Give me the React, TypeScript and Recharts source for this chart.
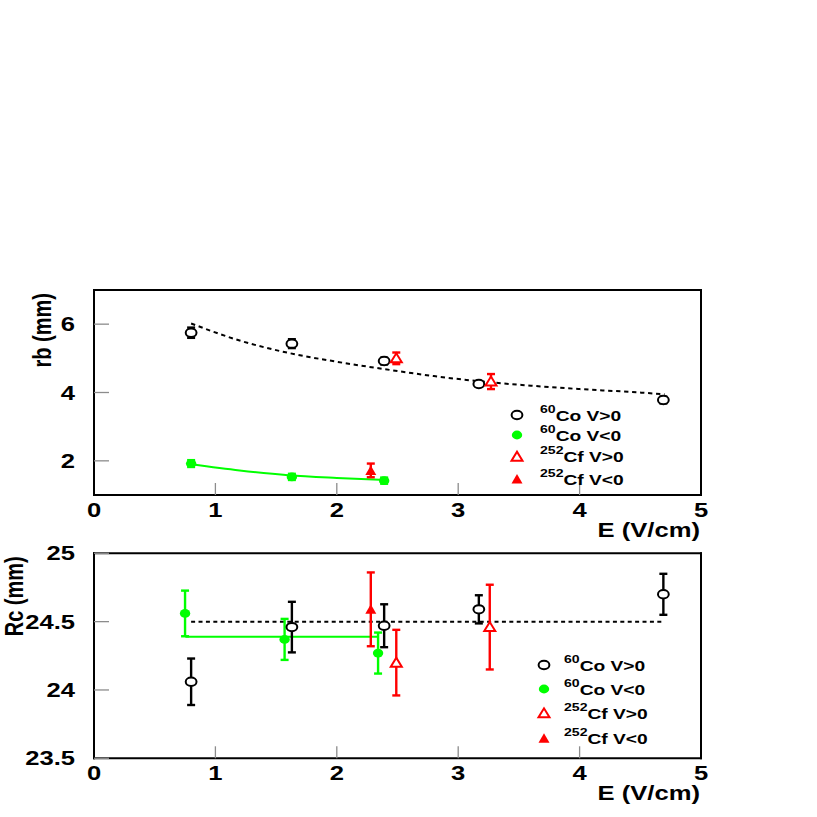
import { ComposedChart, Scatter, Line, XAxis, YAxis, ErrorBar, Legend, Label } from "recharts";

// ---- data ----
const xTicks = [0, 1, 2, 3, 4, 5];
const rbTicks = [2, 4, 6];
const rcTicks = [23.5, 24, 24.5, 25];

// rb (mm) panel
const rbCoPosE = [0.8, 1.63, 2.39, 3.17, 4.69];
const rbCoPos = [5.75, 5.43, 4.92, 4.25, 3.78];
const rbCoPosErr = [0.15, 0.13, 0.1, 0.05, 0.1];
const rbCoNegE = [0.8, 1.63, 2.39];
const rbCoNeg = [1.92, 1.53, 1.42];
const rbCoNegErr = [0.1, 0.09, 0.09];
const rbCfPosE = [2.49, 3.27];
const rbCfPos = [5.0, 4.32];
const rbCfPosErr = [0.17, 0.22];
const rbCfNegE = [2.28];
const rbCfNeg = [1.72];
const rbCfNegErr = [0.2];
const rbFitPosE = [0.8, 1.2, 1.6, 2.0, 2.4, 2.8, 3.2, 3.6, 4.0, 4.4, 4.7];
const rbFitPos = [6.02, 5.52, 5.16, 4.9, 4.68, 4.48, 4.32, 4.2, 4.1, 4.02, 3.95];
const rbFitNegE = [0.8, 1.2, 1.6, 2.0, 2.4];
const rbFitNeg = [1.9, 1.72, 1.58, 1.5, 1.44];

// Rc (mm) panel
const rcCoPosE = [0.8, 1.63, 2.39, 3.17, 4.69];
const rcCoPos = [24.06, 24.46, 24.47, 24.59, 24.7];
const rcCoPosErr = [0.17, 0.185, 0.157, 0.103, 0.15];
const rcCoNegE = [0.75, 1.57, 2.34];
const rcCoNeg = [24.56, 24.37, 24.27];
const rcCoNegErr = [0.167, 0.15, 0.15];
const rcCfPosE = [2.49, 3.26];
const rcCfPos = [24.2, 24.46];
const rcCfPosErr = [0.24, 0.31];
const rcCfNegE = [2.28];
const rcCfNeg = [24.59];
const rcCfNegErr = [0.27];
const rcFitPosE = [0.8, 4.69];
const rcFitPos = [24.5, 24.5];
const rcFitNegE = [0.753, 2.34];
const rcFitNeg = [24.39, 24.39];

// ---- styling ----
const FONT = '"Liberation Sans", Arial, Helvetica, sans-serif';
const STRETCH = 1.28; // the source image is stretched horizontally
const GREEN = "#00ff00";
const RED = "#ff0000";
const TICK_GRAY = "#8c8c8c";

type Kind = "openCircle" | "dot" | "openTri" | "tri";
type Pt = { x: number; y: number; err: number };

const toPoints = (xs: number[], ys: number[], errs?: number[]): Pt[] =>
  xs.map((x, i) => ({ x, y: ys[i], err: errs ? errs[i] : 0 }));

const SERIES: { key: string; iso: string; label: string; kind: Kind; color: string }[] = [
  { key: "coPos", iso: "60", label: "Co V>0", kind: "openCircle", color: "#000" },
  { key: "coNeg", iso: "60", label: "Co V<0", kind: "dot", color: GREEN },
  { key: "cfPos", iso: "252", label: "Cf V>0", kind: "openTri", color: RED },
  { key: "cfNeg", iso: "252", label: "Cf V<0", kind: "tri", color: RED },
];

function Marker({ kind, cx, cy }: { kind: Kind; cx: number; cy: number }) {
  if (cx == null || cy == null) return null;
  switch (kind) {
    case "openCircle":
      return <ellipse cx={cx} cy={cy} rx={5.4} ry={4.2} fill="#fff" stroke="#000" strokeWidth={2} />;
    case "dot":
      return <ellipse cx={cx} cy={cy} rx={5.2} ry={4.4} fill={GREEN} />;
    case "openTri":
      return (
        <path
          d={`M${cx - 5.5},${cy + 4} L${cx + 5.5},${cy + 4} L${cx},${cy - 5} Z`}
          fill="#fff"
          stroke={RED}
          strokeWidth={2}
          strokeLinejoin="miter"
        />
      );
    default:
      return <path d={`M${cx - 5.5},${cy + 4.5} L${cx + 5.5},${cy + 4.5} L${cx},${cy - 5} Z`} fill={RED} />;
  }
}

function SText({
  x, y, anchor = "start", size = 20, rotate, children,
}: { x: number; y: number; anchor?: string; size?: number; rotate?: number; children: any }) {
  return (
    <g transform={`translate(${x},${y}) scale(${STRETCH},1)${rotate ? ` rotate(${rotate})` : ""}`}>
      <text x={0} y={0} textAnchor={anchor} fontFamily={FONT} fontWeight="bold" fontSize={size} fill="#000">
        {children}
      </text>
    </g>
  );
}

function XTick(p: any) {
  return <SText x={p.x} y={p.y + 21.7} anchor="middle">{p.payload.value}</SText>;
}

function YTick(p: any) {
  return <SText x={p.x} y={p.y + 7} anchor="end">{p.payload.value}</SText>;
}

function LegendBox({ markerX, textX, rows }: { markerX: number; textX: number; rows: number[] }) {
  return (
    <svg width={190} height={105} style={{ overflow: "visible", display: "block" }}>
      {SERIES.map((s, i) => (
        <g key={s.key}>
          <Marker kind={s.kind} cx={markerX} cy={rows[i]} />
          <g transform={`translate(${textX},${rows[i] + 5.5}) scale(${STRETCH},1)`}>
            <text fontFamily={FONT} fontWeight="bold" fontSize={15} fill="#000">
              <tspan fontSize={11} dy={-8}>{s.iso}</tspan>
              <tspan dy={8}>{s.label}</tspan>
            </text>
          </g>
        </g>
      ))}
    </svg>
  );
}

interface PanelProps {
  top: number;
  height: number;
  marginTop: number;
  axisHeight: number;
  yDomain: [number, number];
  yTicks: number[];
  yTitle: string;
  yTitleX: number;
  series: Record<string, Pt[]>;
  fitPos: Pt[];
  fitNeg: Pt[];
  fitPosDash: string;
  legend: { left: number; top: number; markerX: number; textX: number; rows: number[] };
}

function Panel(props: PanelProps) {
  const { top, height, marginTop, axisHeight, yDomain, yTicks, yTitle, yTitleX, series, fitPos, fitNeg, legend } = props;
  const plotTop = marginTop + 1;
  const plotBottom = height - axisHeight;
  return (
    <div style={{ position: "absolute", left: 0, top, width: 817, height }}>
      <ComposedChart width={817} height={height} margin={{ top: marginTop, right: 115, bottom: 0, left: 0 }}>
        <XAxis
          xAxisId="b"
          dataKey="x"
          type="number"
          domain={[0, 5]}
          allowDataOverflow
          ticks={xTicks}
          interval={0}
          height={axisHeight}
          tickSize={-12}
          tickMargin={12}
          tick={XTick}
          tickLine={{ stroke: TICK_GRAY, strokeWidth: 1.3 }}
          axisLine={{ stroke: "#000", strokeWidth: 2, strokeLinecap: "square" }}
        >
          <Label
            content={() => (
              <SText x={700} y={plotBottom + 42} anchor="end">E (V/cm)</SText>
            )}
          />
        </XAxis>
        <XAxis
          xAxisId="t"
          orientation="top"
          dataKey="x"
          type="number"
          domain={[0, 5]}
          allowDataOverflow
          ticks={xTicks}
          interval={0}
          height={1}
          tickSize={-12}
          tick={false}
          tickLine={{ stroke: TICK_GRAY, strokeWidth: 1.3 }}
          axisLine={{ stroke: "#000", strokeWidth: 2, strokeLinecap: "square" }}
        />
        <YAxis
          yAxisId="l"
          dataKey="y"
          type="number"
          domain={yDomain}
          allowDataOverflow
          ticks={yTicks}
          interval={0}
          width={94}
          tickSize={-15}
          tickMargin={34}
          tick={YTick}
          tickLine={{ stroke: TICK_GRAY, strokeWidth: 1.3 }}
          axisLine={{ stroke: "#000", strokeWidth: 2, strokeLinecap: "square" }}
        >
          <Label
            content={() => (
              <SText x={yTitleX} y={plotTop + 3} anchor="end" rotate={-90}>
                <tspan dy="0.35em">{yTitle}</tspan>
              </SText>
            )}
          />
        </YAxis>
        <YAxis
          yAxisId="r"
          orientation="right"
          dataKey="y"
          type="number"
          domain={yDomain}
          allowDataOverflow
          ticks={yTicks}
          interval={0}
          width={1}
          tickSize={-15}
          tick={false}
          tickLine={{ stroke: TICK_GRAY, strokeWidth: 1.3 }}
          axisLine={{ stroke: "#000", strokeWidth: 2, strokeLinecap: "square" }}
        />

        <Line
          xAxisId="b"
          yAxisId="l"
          data={fitPos}
          dataKey="y"
          type="monotone"
          stroke="#000"
          strokeWidth={2}
          strokeDasharray={props.fitPosDash}
          dot={false}
          activeDot={false}
          isAnimationActive={false}
        />
        <Line
          xAxisId="b"
          yAxisId="l"
          data={fitNeg}
          dataKey="y"
          type="monotone"
          stroke={GREEN}
          strokeWidth={2}
          dot={false}
          activeDot={false}
          isAnimationActive={false}
        />

        {SERIES.map((s) => (
          <Scatter
            key={s.key}
            xAxisId="b"
            yAxisId="l"
            data={series[s.key]}
            isAnimationActive={false}
            shape={(p: any) => <Marker kind={s.kind} cx={p.cx} cy={p.cy} />}
          >
            <ErrorBar dataKey="err" direction="y" width={4} stroke={s.color} strokeWidth={2.4} />
          </Scatter>
        ))}

        <Legend
          layout="horizontal"
          verticalAlign="middle"
          align="center"
          wrapperStyle={{ left: legend.left, top: legend.top, width: 190, height: 105 }}
          content={() => <LegendBox markerX={legend.markerX} textX={legend.textX} rows={legend.rows} />}
        />
      </ComposedChart>
    </div>
  );
}

export default function App() {
  return (
    <div style={{ position: "absolute", left: 0, top: 0, width: 817, height: 817, background: "#fff" }}>
      <Panel
        top={260}
        height={285}
        marginTop={29}
        axisHeight={50}
        yDomain={[1, 7]}
        yTicks={rbTicks}
        yTitle="rb (mm)"
        yTitleX={42}
        series={{
          coPos: toPoints(rbCoPosE, rbCoPos, rbCoPosErr),
          coNeg: toPoints(rbCoNegE, rbCoNeg, rbCoNegErr),
          cfPos: toPoints(rbCfPosE, rbCfPos, rbCfPosErr),
          cfNeg: toPoints(rbCfNegE, rbCfNeg, rbCfNegErr),
        }}
        fitPos={toPoints(rbFitPosE, rbFitPos)}
        fitNeg={toPoints(rbFitNegE, rbFitNeg)}
        fitPosDash="4.3 3.7"
        legend={{ left: 505, top: 144, markerX: 12, textX: 35, rows: [11, 31, 52.7, 75] }}
      />
      <Panel
        top={540}
        height={277}
        marginTop={12.3}
        axisHeight={58.7}
        yDomain={[23.5, 25]}
        yTicks={rcTicks}
        yTitle="Rc (mm)"
        yTitleX={14}
        series={{
          coPos: toPoints(rcCoPosE, rcCoPos, rcCoPosErr),
          coNeg: toPoints(rcCoNegE, rcCoNeg, rcCoNegErr),
          cfPos: toPoints(rcCfPosE, rcCfPos, rcCfPosErr),
          cfNeg: toPoints(rcCfNegE, rcCfNeg, rcCfNegErr),
        }}
        fitPos={toPoints(rcFitPosE, rcFitPos)}
        fitNeg={toPoints(rcFitNegE, rcFitNeg)}
        fitPosDash="4 3.4"
        legend={{ left: 530, top: 110, markerX: 14, textX: 34, rows: [15, 39, 63.3, 88.3] }}
      />
    </div>
  );
}
